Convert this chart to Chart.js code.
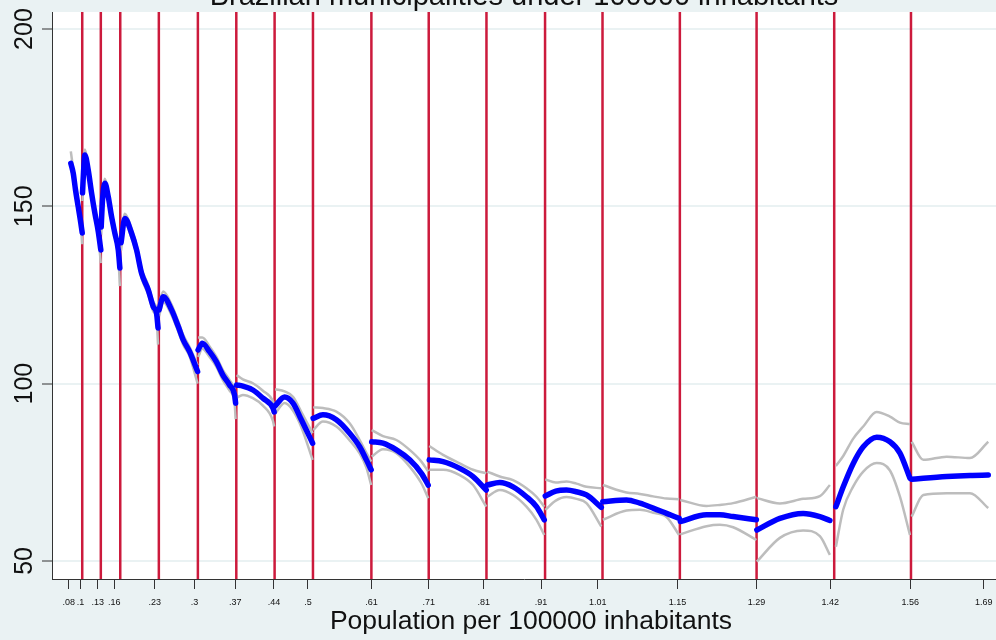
<!DOCTYPE html>
<html>
<head>
<meta charset="utf-8">
<script src="https://cdn.jsdelivr.net/npm/chart.js@4"></script>
<style>
	html, body { margin: 0; padding: 0; background: #eaf2f3; }
	#wrap { width: 996px; height: 640px; position: relative; }
</style>
</head>
<body>
<div id="wrap"><canvas id="c"></canvas></div>
<script>
// cut points (red lines)
const cuts = [0.1036, 0.1363, 0.1705, 0.2384, 0.3071, 0.3747, 0.4421, 0.5096, 0.6124,
	0.7133, 0.8149, 0.9180, 1.0191, 1.1552, 1.2902, 1.4268, 1.5619];

const tickValues = [0.08, 0.1006, 0.131, 0.16, 0.231, 0.301, 0.373, 0.441, 0.5008, 0.6124,
	0.7133, 0.81, 0.911, 1.0108, 1.151, 1.29, 1.4198, 1.5606, 1.69];
const tickLabels = [".08", ".1", ".13", ".16", ".23", ".3", ".37", ".44", ".5", ".61",
	".71", ".81", ".91", "1.01", "1.15", "1.29", "1.42", "1.56", "1.69"];

// one row per segment between cuts
const segX = [
	[0.0835, 0.0877, 0.0918, 0.0965, 0.1011, 0.1036],
	[0.1041, 0.1059, 0.1082, 0.1142, 0.1200, 0.1258, 0.1318, 0.1363],
	[0.1370, 0.1393, 0.1434, 0.1494, 0.1552, 0.1610, 0.1670, 0.1698],
	[0.1719, 0.1786, 0.1904, 0.1992, 0.2080, 0.2198, 0.2286, 0.2344, 0.2370],
	[0.2388, 0.2462, 0.2608, 0.2726, 0.2814, 0.2925, 0.3066],
	[0.3075, 0.3149, 0.3277, 0.3395, 0.3511, 0.3629, 0.3717, 0.3735],
	[0.3752, 0.3863, 0.4039, 0.4215, 0.4392, 0.4413],
	[0.4430, 0.4597, 0.4744, 0.4892, 0.5090],
	[0.5099, 0.5272, 0.5508, 0.5742, 0.5918, 0.6036, 0.6120],
	[0.6129, 0.6328, 0.6564, 0.6798, 0.7004, 0.7124],
	[0.7142, 0.7385, 0.7679, 0.7913, 0.8145],
	[0.8163, 0.8383, 0.8617, 0.8853, 0.9029, 0.9166],
	[0.9184, 0.9369, 0.9557, 0.9733, 0.9909, 1.0170],
	[1.0196, 1.0613, 1.0848, 1.1082, 1.1318, 1.1539],
	[1.1560, 1.2022, 1.2256, 1.2490, 1.2899],
	[1.2907, 1.3312, 1.3722, 1.4016, 1.4192],
	[1.4298, 1.4427, 1.4603, 1.4779, 1.5015, 1.5249, 1.5425, 1.5601],
	[1.5631, 1.5836, 1.6247, 1.6657, 1.6979]
];

const fitY = [
	[162.1, 159.4, 154.6, 149.9, 145.3, 142.5],
	[153.8, 159.7, 164.5, 160.2, 153.8, 148.1, 142.9, 137.7],
	[144.2, 151.8, 156.5, 152.7, 147.1, 142.4, 137.7, 132.6],
	[139.7, 146.6, 142.4, 137.7, 131.1, 126.4, 121.7, 119.8, 115.7],
	[120.8, 124.5, 120.8, 116.1, 112.3, 109.0, 103.4],
	[109.5, 111.4, 109.0, 106.2, 102.4, 99.6, 96.8, 94.5],
	[99.6, 99.3, 98.2, 95.9, 93.1, 92.0],
	[93.7, 96.2, 94.5, 89.8, 83.2],
	[90.2, 91.2, 89.8, 86.0, 82.2, 78.5, 75.7],
	[83.6, 83.2, 81.3, 78.5, 74.7, 71.4],
	[78.5, 78.0, 76.1, 73.8, 70.0],
	[71.4, 72.1, 70.9, 68.1, 65.3, 61.6],
	[68.3, 69.7, 70.0, 69.5, 68.6, 65.1],
	[66.7, 67.2, 66.3, 64.9, 63.4, 62.0],
	[61.1, 63.0, 63.0, 62.5, 61.6],
	[58.7, 62.0, 63.4, 62.5, 61.4],
	[65.3, 70.9, 77.5, 82.2, 84.9, 83.6, 80.4, 73.3],
	[73.0, 73.3, 73.8, 74.1, 74.2]
];

const upperY = [
	[165.5, 160.5, 155.5, 150.8, 146.3, 143.8],
	[155.5, 161.5, 166.0, 161.5, 155.0, 149.3, 144.0, 139.0],
	[146.0, 153.2, 157.8, 154.0, 148.4, 143.7, 139.0, 134.0],
	[141.0, 147.9, 143.7, 139.0, 132.4, 127.7, 123.0, 121.2, 118.0],
	[122.5, 126.0, 122.3, 117.5, 113.7, 110.3, 105.2],
	[113.0, 113.0, 110.5, 107.6, 103.8, 101.0, 98.3, 96.5],
	[102.4, 101.2, 100.1, 98.0, 95.0, 93.8],
	[98.4, 97.8, 96.3, 92.0, 86.0],
	[93.3, 93.1, 92.1, 88.8, 84.1, 80.5, 78.0],
	[86.9, 85.2, 84.1, 81.3, 78.0, 75.2],
	[82.4, 79.9, 77.5, 75.7, 74.7],
	[75.2, 73.8, 72.8, 70.5, 68.1, 65.3],
	[73.0, 72.1, 72.4, 71.8, 70.9, 70.5],
	[71.4, 69.3, 68.9, 68.2, 67.6, 67.4],
	[67.2, 65.5, 65.8, 66.3, 68.1],
	[67.7, 66.2, 67.5, 68.3, 71.4],
	[76.8, 79.6, 84.5, 87.9, 92.0, 90.7, 89.0, 88.6],
	[83.6, 78.5, 79.4, 79.0, 83.6]
];

const lowerY = [
	[160.5, 158.3, 153.7, 149.0, 144.2, 139.3],
	[151.5, 158.0, 163.0, 158.9, 152.6, 146.9, 141.6, 134.0],
	[142.0, 150.4, 155.2, 151.4, 145.8, 141.1, 136.4, 127.5],
	[137.5, 145.3, 141.1, 136.4, 129.8, 125.1, 120.4, 118.4, 111.0],
	[119.0, 123.0, 119.3, 114.7, 110.9, 107.7, 100.0],
	[107.5, 109.8, 107.5, 104.8, 101.0, 98.0, 94.5, 90.0],
	[96.0, 96.8, 95.9, 93.8, 89.5, 87.9],
	[91.5, 94.5, 92.4, 87.7, 78.5],
	[86.9, 89.3, 87.9, 84.0, 80.3, 76.3, 71.4],
	[79.4, 81.5, 80.4, 76.6, 71.9, 67.7],
	[75.7, 75.7, 74.2, 71.4, 65.3],
	[68.1, 70.0, 68.6, 65.3, 61.6, 57.3],
	[64.4, 67.0, 68.0, 67.5, 66.3, 59.7],
	[61.6, 64.2, 64.4, 63.6, 62.4, 57.3],
	[57.5, 59.8, 60.2, 59.5, 55.9],
	[49.8, 56.5, 58.6, 57.0, 51.7],
	[54.0, 64.5, 71.0, 75.2, 77.6, 75.5, 68.1, 57.3],
	[62.5, 68.6, 69.1, 69.1, 64.9]
];

const yMin = 44.9;
const yMax = 204.8;
const xMin = 0.0504;
const xMax = 1.7115;

const titleText = "Brazilian municipalities under 100000 inhabitants";
const xTitleText = "Population per 100000 inhabitants";
const bg = "#eaf2f3";

function joinSegments(ys) {
	const pts = [];
	segX.forEach((xs, s) => {
		xs.forEach((x, i) => pts.push({ x: x, y: ys[s][i] }));
		pts.push({ x: xs[xs.length - 1], y: null });
	});
	return pts;
}

function cutLines() {
	const pts = [];
	cuts.forEach(c => pts.push({ x: c, y: yMin }, { x: c, y: yMax }, { x: c, y: null }));
	return pts;
}

const backdrop = {
	id: "backdrop",
	beforeDraw(chart) {
		const { ctx, chartArea: a } = chart;
		ctx.save();
		ctx.fillStyle = bg;
		ctx.fillRect(0, 0, chart.width, chart.height);
		ctx.fillStyle = "#fff";
		ctx.fillRect(a.left, a.top, a.right - a.left, a.bottom - a.top);
		ctx.restore();
	},
	afterDraw(chart) {
		const { ctx, chartArea: a } = chart;
		ctx.save();
		ctx.fillStyle = "#111";
		ctx.textAlign = "center";
		ctx.textBaseline = "alphabetic";
		ctx.font = "29px 'Liberation Sans', Arial, sans-serif";
		ctx.fillText(titleText, (a.left + a.right) / 2, 5);
		// x axis title, Stata puts it a bit right of the plot centre
		ctx.font = "26.5px 'Liberation Sans', Arial, sans-serif";
		ctx.fillText(xTitleText, (a.left + a.right) / 2 + 7, 629);
		ctx.restore();
	}
};

Chart.defaults.font.family = "'Liberation Sans', Arial, sans-serif";

new Chart(document.getElementById("c"), {
	type: "line",
	data: {
		datasets: [
			{
				data: joinSegments(fitY),
				borderColor: "#0000ff",
				borderWidth: 5.5,
				borderCapStyle: "round",
				pointRadius: 0,
				tension: 0.4,
				cubicInterpolationMode: "monotone",
				order: 0
			},
			{
				data: joinSegments(upperY),
				borderColor: "#bdbdbd",
				borderWidth: 2.5,
				pointRadius: 0,
				tension: 0.4,
				cubicInterpolationMode: "monotone",
				order: 1
			},
			{
				data: joinSegments(lowerY),
				borderColor: "#bdbdbd",
				borderWidth: 2.5,
				pointRadius: 0,
				tension: 0.4,
				cubicInterpolationMode: "monotone",
				order: 1
			},
			{
				data: cutLines(),
				borderColor: "#cc1a3c",
				borderWidth: 2.5,
				pointRadius: 0,
				tension: 0,
				order: 2
			}
		]
	},
	options: {
		responsive: true,
		maintainAspectRatio: false,
		animation: false,
		events: [],
		layout: { padding: { top: 12, left: 0, right: 0, bottom: 0 } },
		scales: {
			x: {
				type: "linear",
				min: xMin,
				max: xMax,
				afterBuildTicks: s => { s.ticks = tickValues.map(v => ({ value: v })); },
				afterFit: s => {
					s.height = 61;
					s.paddingLeft = 0;
					s.paddingRight = 0;
				},
				ticks: {
					callback: (v, i) => tickLabels[i],
					autoSkip: false,
					maxRotation: 0,
					minRotation: 0,
					padding: 8,
					color: "#111",
					font: { size: 9 }
				},
				grid: { drawOnChartArea: false, tickLength: 10, color: "#333" },
				border: { color: "#333", width: 1 }
			},
			y: {
				min: yMin,
				max: yMax,
				afterFit: s => { s.width = 52; },
				ticks: {
					stepSize: 50,
					includeBounds: false,
					minRotation: 90,
					maxRotation: 90,
					crossAlign: "center",
					padding: -4,
					color: "#111",
					font: { size: 25 }
				},
				grid: { color: bg, lineWidth: 2, tickColor: "#333", tickLength: 10, tickWidth: 1 },
				border: { color: "#333", width: 1 }
			}
		},
		plugins: {
			legend: { display: false },
			tooltip: { enabled: false }
		}
	},
	plugins: [backdrop]
});
</script>
</body>
</html>
